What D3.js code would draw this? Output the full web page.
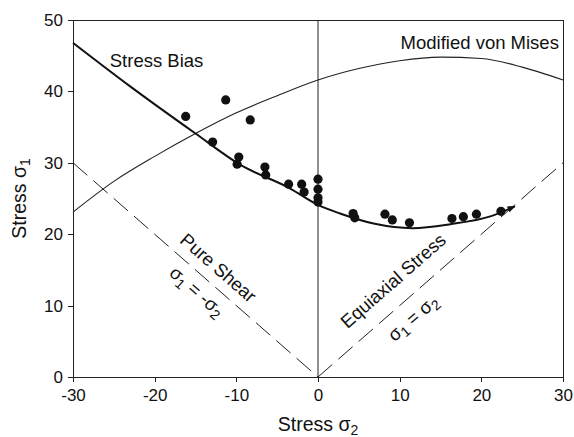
<!DOCTYPE html>
<meta charset="utf-8">
<style>
  body { margin: 0; background: #fff; font-family: 'Liberation Sans', Arial, sans-serif; }
  .axis path, .axis line { fill: none; stroke: #222; stroke-width: 1; shape-rendering: crispEdges; }
  .axis text { font-size: 17px; fill: #111; font-family: 'Liberation Sans', Arial, sans-serif; }
  .axisLabel { font-size: 19.5px; fill: #111; }
  .note { font-size: 18.5px; fill: #111; }
</style>
<body>
<div id="chart"></div>
<script src="https://d3js.org/d3.v7.min.js"></script>
<script>
// tick labels
var xTicks = [-30, -20, -10, 0, 10, 20, 30];
var yTicks = [0, 10, 20, 30, 40, 50];

// test data (sigma2, sigma1)
var testS2 = [-16.2, -11.3, -8.3, -12.9, -9.7, -9.9, -6.5, -6.4, -3.6, -2.0, -1.7, 0, 0, 0, 0,
              4.3, 4.5, 8.2, 9.1, 11.2, 16.4, 17.8, 19.4, 22.4];
var testS1 = [36.5, 38.8, 36.0, 32.9, 30.8, 29.8, 29.4, 28.3, 27.0, 27.0, 25.9, 27.7, 26.3, 25.1, 24.5,
              22.9, 22.3, 22.8, 22.0, 21.6, 22.2, 22.45, 22.8, 23.2];

// stress bias criterion
var biasS2 = [-30, -23, -15, -9.5, -3.4, 0, 2.7, 6.8, 11.6, 16.2, 21.1, 24.1];
var biasS1 = [46.8, 40.7, 34.1, 29.7, 26.4, 24.1, 22.9, 21.5, 20.85, 21.4, 22.5, 23.9];

// modified von Mises
var misesS2 = [-30, -25, -20, -15, -10, -5, 0, 5, 10, 15, 20, 25, 30];
var misesS1 = [23.1, 27.4, 30.9, 34.1, 37.0, 39.4, 41.6, 43.2, 44.3, 44.8, 44.6, 43.4, 41.6];

// reference lines
var shearS2 = [-30, 0], shearS1 = [30, 0];
var equiS2 = [0, 30], equiS1 = [0, 30];
var axisS2 = [0, 0], axisS1 = [0, 50];

var width = 574, height = 437;
var margin = { top: 20, right: 11, bottom: 60, left: 73 };
var w = width - margin.left - margin.right;
var h = height - margin.top - margin.bottom;

var svg = d3.select("#chart").append("svg")
  .attr("width", width)
  .attr("height", height);

svg.append("defs").append("marker")
  .attr("id", "arrow")
  .attr("viewBox", "0 0 10 10")
  .attr("refX", 9).attr("refY", 5)
  .attr("markerWidth", 6).attr("markerHeight", 4)
  .attr("markerUnits", "strokeWidth")
  .attr("orient", "auto")
  .append("path")
  .attr("d", "M0,1 L10,5 L0,9 Z")
  .attr("fill", "#111");

var g = svg.append("g").attr("transform", `translate(${margin.left},${margin.top})`);

var x = d3.scaleLinear().domain([-30, 30]).range([0, w]);
var y = d3.scaleLinear().domain([0, 50]).range([h, 0]);

var zip = (a, b) => a.map((v, i) => [v, b[i]]);
var line = d3.line().x(d => x(d[0])).y(d => y(d[1]));
var smooth = d3.line().x(d => x(d[0])).y(d => y(d[1])).curve(d3.curveMonotoneX);

// frame
g.append("rect")
  .attr("width", w).attr("height", h)
  .attr("fill", "none").attr("stroke", "#222").attr("stroke-width", 1)
  .attr("shape-rendering", "crispEdges");

// axes (plain hyphen minus like the original)
g.append("g").attr("class", "x axis")
  .attr("transform", `translate(0,${h})`)
  .call(d3.axisBottom(x).tickValues(xTicks).tickFormat(d => String(d))
    .tickSize(5).tickPadding(7).tickSizeOuter(0));

g.append("g").attr("class", "y axis")
  .call(d3.axisLeft(y).tickValues(yTicks).tickFormat(d => String(d))
    .tickSize(5).tickPadding(5).tickSizeOuter(0));

// sigma2 = 0
g.append("path").datum(zip(axisS2, axisS1)).attr("d", line)
  .attr("fill", "none").attr("stroke", "#222").attr("stroke-width", 1);

// dashed loading paths
[zip(shearS2, shearS1), zip(equiS2, equiS1)].forEach(d => {
  g.append("path").datum(d).attr("d", line)
    .attr("fill", "none").attr("stroke", "#222").attr("stroke-width", 1)
    .attr("stroke-dasharray", "19,8");
});

// modified von Mises
g.append("path").datum(zip(misesS2, misesS1)).attr("d", smooth)
  .attr("fill", "none").attr("stroke", "#222").attr("stroke-width", 1.1);

// stress bias
g.append("path").datum(zip(biasS2, biasS1)).attr("d", smooth)
  .attr("fill", "none").attr("stroke", "#111").attr("stroke-width", 2)
  .attr("marker-end", "url(#arrow)");

// test points
g.selectAll(".pt").data(zip(testS2, testS1)).enter().append("circle")
  .attr("class", "pt")
  .attr("cx", d => x(d[0])).attr("cy", d => y(d[1]))
  .attr("r", 4.6).attr("fill", "#111");

// text with subscripts: parts = [text, isSub]
function rich(sel, parts, sub) {
  var shift = 0;
  parts.forEach(p => {
    var t = sel.append("tspan").text(p[0]);
    if (p[1]) {
      t.attr("font-size", sub).attr("dy", 4);
      shift = -4;
    } else if (shift) {
      t.attr("dy", shift);
      shift = 0;
    }
  });
  return sel;
}

// axis labels
rich(svg.append("text").attr("class", "axisLabel")
  .attr("x", margin.left + x(0)).attr("y", 431)
  .attr("text-anchor", "middle"), [["Stress \u03c3"], ["2", 1]], "14px");

rich(svg.append("text").attr("class", "axisLabel")
  .attr("transform", "rotate(-90)")
  .attr("x", -(margin.top + h / 2)).attr("y", 26)
  .attr("text-anchor", "middle"), [["Stress \u03c3"], ["1", 1]], "14px");

// curve labels
g.append("text").attr("class", "note")
  .attr("x", x(-25.5)).attr("y", y(43.4))
  .text("Stress Bias");

g.append("text").attr("class", "note")
  .attr("x", x(29.5)).attr("y", y(45.9))
  .attr("text-anchor", "end")
  .text("Modified von Mises");

// rotated labels along the loading paths
var ang = Math.atan2(y(0) - y(30), x(0) - x(-30)) * 180 / Math.PI;

function rotLabel(cx, cy, a, parts) {
  var t = g.append("text").attr("class", "note")
    .attr("text-anchor", "middle")
    .attr("transform", `translate(${x(cx)},${y(cy)}) rotate(${a})`)
    .attr("dy", "0.35em");
  rich(t, parts, "14px");
}

rotLabel(-12.2, 15.3, ang, [["Pure Shear"]]);
rotLabel(-14.8, 12.0, ang, [["\u03c3"], ["1", 1], [" = -\u03c3"], ["2", 1]]);
rotLabel(9.2, 13.5, -ang, [["Equiaxial Stress"]]);
rotLabel(11.6, 8.3, -ang, [["\u03c3"], ["1", 1], [" = \u03c3"], ["2", 1]]);
</script>
</body>
